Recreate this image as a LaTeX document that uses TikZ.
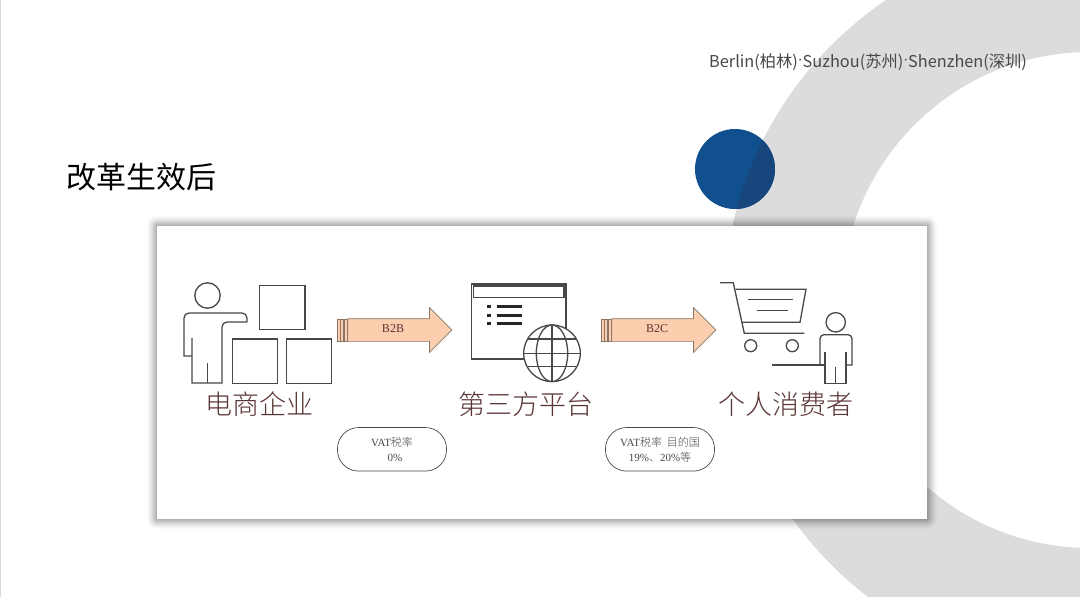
\documentclass[tikz,border=0pt]{standalone}
\usepackage{fontspec}
\setmainfont{Liberation Sans}
\newfontfamily\cjk{Noto Sans CJK SC}
\newfontfamily\cjklight{Noto Sans CJK SC Light}
\newfontfamily\serifrm{Liberation Serif}
\usetikzlibrary{arrows,calc,positioning,shapes.arrows}
\definecolor{ringgray}{HTML}{DCDCDC}
\definecolor{dotblue}{HTML}{10508F}
\definecolor{dotdark}{HTML}{17467C}
\definecolor{icongray}{HTML}{484848}
\definecolor{capbrown}{HTML}{5A3434}
\definecolor{arrowfill}{HTML}{FBCFAE}
\definecolor{arrowline}{HTML}{8A7565}
\tikzstyle{icon}=[draw=icongray,line width=1.3pt,line join=miter]
\tikzstyle{caption}=[font=\cjklight\fontsize{27}{27}\selectfont,text=capbrown,inner sep=0pt]
\tikzstyle{blockarrow}=[draw=arrowline,fill=arrowfill,line width=.7pt,single arrow,single arrow head extend=11pt,single arrow tip angle=90,minimum width=44pt,minimum height=104pt,inner sep=0pt,anchor=west]
\tikzstyle{stripe}=[draw=arrowline,fill=arrowfill,line width=.5pt,minimum width=3.2pt,minimum height=22pt,inner sep=0pt]
\tikzstyle{pill}=[draw=icongray,line width=.7pt,rounded corners=21pt,minimum width=109pt,minimum height=43.5pt,align=center,inner sep=0pt,font=\serifrm\fontsize{11}{15}\selectfont,text=icongray]
\tikzstyle{tag}=[font=\serifrm\fontsize{12}{12}\selectfont,text=capbrown,inner sep=0pt]

\begin{document}
\begin{tikzpicture}[x=1pt,y=-1pt]
  \useasboundingbox (0,0) rectangle (1080,597);
  \fill[white] (0,0) rectangle (1080,597);
  \draw[gray!30,line width=2pt] (0,0) -- (0,597);
  % ring and dot
  \begin{scope}
    \clip (0,0) rectangle (1080,597);
    \fill[ringgray,even odd rule] (1092,305) circle [radius=368] (1090,300) circle [radius=248];
  \end{scope}
  \fill[dotblue] (735,169) circle [radius=40];
  \begin{scope}
    \clip (735,169) circle [radius=40];
    \fill[dotdark] (1092,305) circle [radius=368];
  \end{scope}
  \node (offices) [anchor=west,inner sep=0pt,text=icongray,font=\cjk\fontsize{16.3}{16.3}\selectfont] at (709,62) {Berlin(柏林)\raisebox{2.5pt}{$\cdot$}Suzhou(苏州)\raisebox{2.5pt}{$\cdot$}Shenzhen(深圳)};
  \node (title) [anchor=west,inner sep=0pt,font=\cjk\fontsize{30}{30}\selectfont] at (66.5,177) {改革生效后};
  % panel
  \foreach \s [evaluate=\s as \op using .004*(14-\s)] in {1,...,10}
    \fill[black,opacity=\op,rounded corners=\s pt] ({157-\s},{226-\s}) rectangle ({927+\s},{519+\s});
  \fill[white] (157,226) rectangle (927,519);
  % seller
  \draw[icon] (207.5,295.5) circle [radius=12.7];
  \draw[icon] (247,322) [rounded corners=5pt] -- (222,322) -- (222,345) [sharp corners] -- (222,383) -- (192,383) -- (192,338);
  \draw[icon] (192,356) -- (184,356) [rounded corners=5pt] -- (184,313) -- (247,313) [sharp corners] -- (247,322);
  \draw[icon] (207.5,363) -- (207.5,383);
  \draw[icon] (259.5,285.5) rectangle (305,329.5);
  \draw[icon] (232.7,339) rectangle (277.7,383.3);
  \draw[icon] (286.7,339) rectangle (331.7,383.3);
  \node [caption] (seller) at (259,404) {电商企业};
  % platform
  \draw[icon] (471.7,284) rectangle (566,359);
  \draw[icon] (473.5,286) rectangle (564,297.3);
  \foreach \y in {306.7,315.3,323.3} {
    \fill[black!85] (486.7,{\y-1.6}) rectangle (491,{\y+1.6});
    \fill[black!85] (497,{\y-1.3}) rectangle (522.3,{\y+1.3});
  }
  \draw[icon,fill=white] (552,353.3) circle [radius=28.3];
  \draw[icon] (552,353.3) ellipse [x radius=15.7,y radius=28.3];
  \draw[icon] (552,325) -- (552,381.6);
  \draw[icon] (524,353.3) -- (580,353.3);
  \draw[icon] (528,339) -- (576,339);
  \draw[icon] (528,366.7) -- (576,366.7);
  \node [caption] (platform) at (525.5,404) {第三方平台};
  % buyer
  \draw[icon] (720,282.7) -- (733.3,282.7) -- (744.3,333.3) -- (804.3,333.3);
  \draw[icon] (735.7,289.3) -- (806,289.3) -- (800,322.3) -- (741.7,322.3);
  \draw[icon,line width=1pt] (748.3,299.3) -- (793.3,299.3);
  \draw[icon,line width=1pt] (756.7,310.3) -- (788.3,310.3);
  \draw[icon] (750.7,345.7) circle [radius=6];
  \draw[icon] (792.3,345.7) circle [radius=6];
  \draw[icon] (835.7,322.3) circle [radius=9.7];
  \draw[icon] (825,365) -- (820,365) [rounded corners=4pt] -- (820,334.7) -- (852,334.7) [sharp corners] -- (852,365) -- (846,365);
  \draw[icon] (825,351.7) -- (825,383.3) -- (846,383.3) -- (846,351.7);
  \draw[icon] (835.7,367.3) -- (835.7,383.3);
  \draw[icon] (772.3,365) -- (825,365);
  \node [caption] (buyer) at (785.5,404) {个人消费者};
  % arrows
  \foreach \x in {338.5,342,345.5} {
    \node [stripe] at (\x,330) {};
    \node [stripe] at ({\x+264},330) {};
  }
  \node [blockarrow] (b2b) at (347.5,330) {\rule{0pt}{22pt}};
  \node [blockarrow] (b2c) at (611.5,330) {\rule{0pt}{22pt}};
  \node [tag] (b2btext) at (393,329) {B2B};
  \node [tag] (b2ctext) at (657,329) {B2C};
  \node [pill] (vat1) at (392,449.3) {VAT{\cjklight 税率}\\\hspace*{6pt}0\%};
  \node [pill] (vat2) at (660,449.3) {VAT{\cjklight 税率\ \ 目的国}\\19\%{\cjklight 、}20\%{\cjklight 等}};
\end{tikzpicture}
\end{document}
